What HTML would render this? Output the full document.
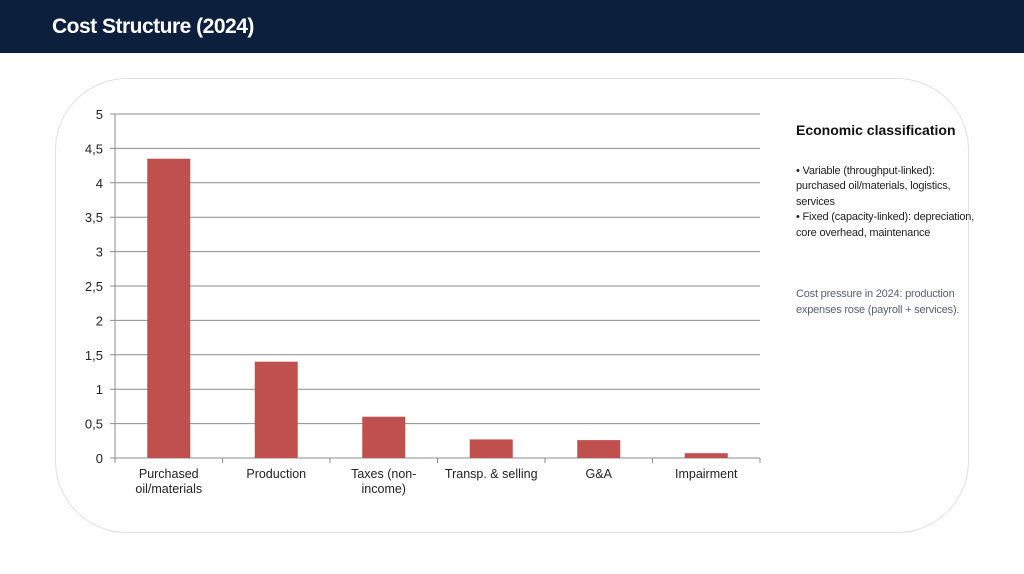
<!DOCTYPE html>
<html><head><meta charset="utf-8"><style>
body{margin:0;width:1024px;height:574px;overflow:hidden;background:#fff;font-family:"Liberation Sans",sans-serif;position:relative}
#hdr{position:absolute;left:0;top:0;width:1024px;height:53px;background:#0c1f3d}
#hdr h1{margin:0;position:absolute;left:52px;top:15px;color:#fff;font-size:21px;font-weight:bold;letter-spacing:-0.5px}
#panel{position:absolute;left:55px;top:78px;width:912px;height:453px;border:1.5px solid #dde0e6;border-radius:72px}
#side{position:absolute;left:796px;top:123px;width:205px;font-size:11px;line-height:15.5px;color:#222;letter-spacing:-0.2px}
#side h2{margin:0 0 25px 0;font-size:14px;font-weight:bold;color:#111;letter-spacing:0}
#side p{margin:0}
#note{color:#5a6070;margin-top:46px!important}
svg{position:absolute;left:0;top:0}
</style></head><body>
<div id="hdr"><h1>Cost Structure (2024)</h1></div>
<div id="panel"></div>
<svg id="chart" width="1024" height="574"></svg>
<div id="side">
<h2>Economic classification</h2>
<p>• Variable (throughput-linked):<br>purchased oil/materials, logistics,<br>services</p>
<p>• Fixed (capacity-linked): depreciation,<br>core overhead, maintenance</p>
<p id="note">Cost pressure in 2024: production<br>expenses rose (payroll + services).</p>
</div>
<script>
const categories=[["Purchased","oil/materials"],["Production"],["Taxes (non-","income)"],["Transp. & selling"],["G&A"],["Impairment"]];
const values=[4.35,1.4,0.6,0.27,0.26,0.07];
const yTicks=[0,0.5,1,1.5,2,2.5,3,3.5,4,4.5,5];
const yTickLabels=["0","0,5","1","1,5","2","2,5","3","3,5","4","4,5","5"];
const svg=document.getElementById('chart');const NS='http://www.w3.org/2000/svg';
const x0=115,x1=760,y0=458,y1=114,ymax=5;
const y=v=>y0-(y0-y1)*v/ymax;
const bw=(x1-x0)/categories.length;
function mk(t,a){const e=document.createElementNS(NS,t);for(const k in a)e.setAttribute(k,a[k]);svg.appendChild(e);return e;}
yTicks.forEach((t,i)=>{
 const g=mk('line',{x1:x0-5,x2:x1,y1:y(t),y2:y(t),stroke:'#8c8c8c','stroke-width':1});
 
 
 const tx=mk('text',{x:x0-12,y:y(t)+5,'text-anchor':'end','font-size':13,fill:'#222'});
 tx.textContent=yTickLabels[i];
 
 
});
const ax=mk('line',{x1:x0,x2:x0,y1:y1,y2:y0,stroke:'#8c8c8c'});


for(let i=0;i<=categories.length;i++){const t=mk('line',{x1:x0+i*bw,x2:x0+i*bw,y1:y0,y2:y0+5,stroke:'#8c8c8c'});
 
 }
categories.forEach((c,i)=>{
 const cx=x0+bw*(i+0.5);
 const r=mk('rect',{x:cx-21.5,y:y(values[i]),width:43,height:y0-y(values[i]),fill:'#c0504d'});
 
 
 c.forEach((l,j)=>{const t=mk('text',{x:cx,y:478+j*15,'text-anchor':'middle','font-size':12.5,fill:'#222'});t.textContent=l;
 
 });
});
</script>
</body></html>
